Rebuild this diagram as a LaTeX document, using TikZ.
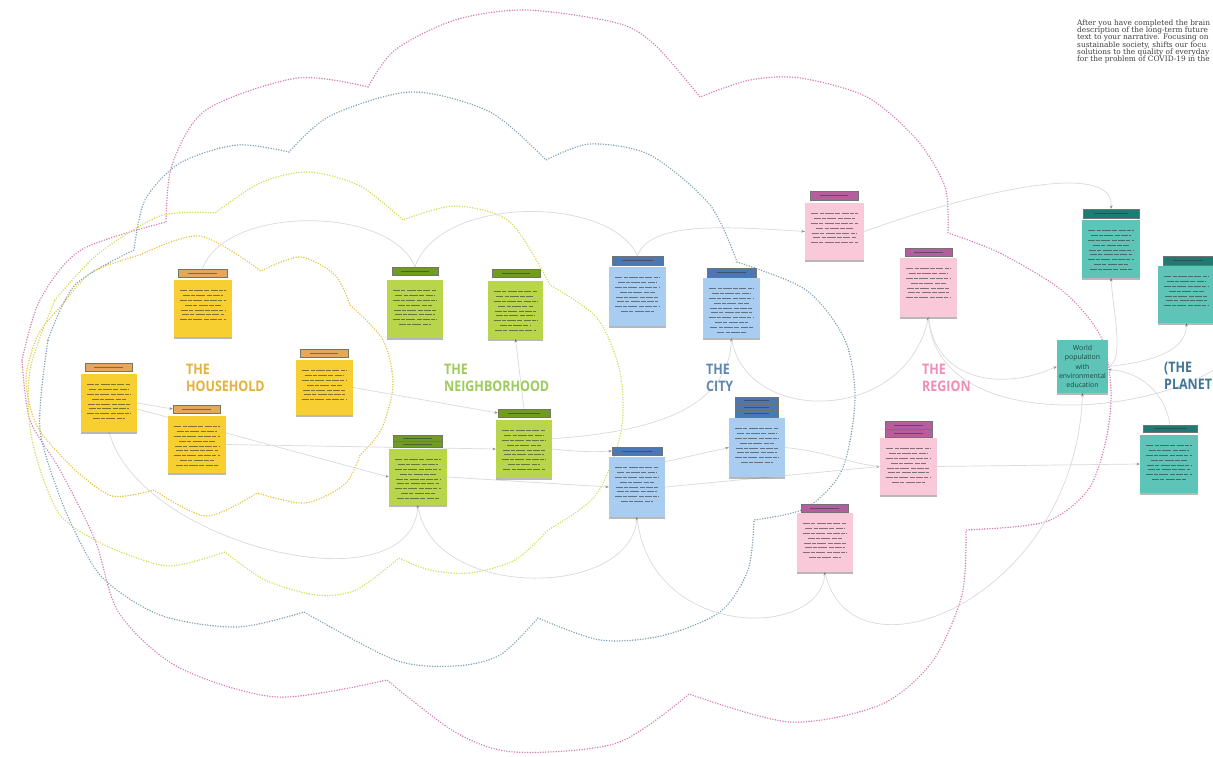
\documentclass[tikz,border=0pt]{standalone}
\usepackage{fontspec}
\setmainfont{DejaVu Serif}
\newfontfamily\labelfont[FakeStretch=0.86]{Open Sans}
\newfontfamily\notefont{Open Sans}
\usetikzlibrary{shadows,arrows.meta}

% sticky note families
\definecolor{hhFill}{HTML}{F7CF30}
\definecolor{hhHead}{HTML}{E3A75E}
\definecolor{nbFill}{HTML}{B9D54C}
\definecolor{nbHead}{HTML}{6F9C22}
\definecolor{ctFill}{HTML}{A9CDF1}
\definecolor{ctHead}{HTML}{4B78B4}
\definecolor{rgFill}{HTML}{F9C8D9}
\definecolor{rgHead}{HTML}{B65E9D}
\definecolor{plFill}{HTML}{5EC4B7}
\definecolor{plHead}{HTML}{1F7A74}
% area titles
\definecolor{hhText}{HTML}{E3B23C}
\definecolor{nbText}{HTML}{9DCB5C}
\definecolor{ctText}{HTML}{5F87AF}
\definecolor{rgText}{HTML}{EE8DB6}
\definecolor{plText}{HTML}{3E7598}
% cloud outlines
\definecolor{cloudHH}{HTML}{E6C43F}
\definecolor{cloudNB}{HTML}{D3DD55}
\definecolor{cloudCT}{HTML}{7FA2B5}
\definecolor{cloudRG}{HTML}{D87CB4}
% connectors and prose
\definecolor{linkgray}{HTML}{DADADF}
\definecolor{arrowgray}{HTML}{8A8A90}
\definecolor{prose}{HTML}{3F3F3F}
\definecolor{worldText}{HTML}{1E4744}

\pgfdeclarelayer{clouds}
\pgfdeclarelayer{links}
\pgfsetlayers{clouds,links,main}

\tikzset{
  cloud/.style={line width=1.6pt, line cap=round, dash pattern=on 0pt off 2.6pt},
  notebox/.style={rectangle, inner sep=0pt, draw=none,
    drop shadow={shadow xshift=0pt, shadow yshift=-2pt, opacity=0.28, fill=black}},
  headbox/.style={rectangle, inner sep=0pt, draw=black!55, line width=0.35pt},
  noteline/.style={line width=1pt, draw=black!80, opacity=0.6,
    dash pattern=on 7pt off 1.3pt on 4pt off 1.3pt on 9pt off 1.3pt on 5pt off 1.3pt},
  headline/.style={line width=0.9pt, draw=black!80, opacity=0.55},
  link/.style={draw=linkgray, line width=0.7pt},
  arrowlink/.style={link, -{Stealth[length=3.4pt,width=2.6pt,color=arrowgray]}},
  areatitle/.style={anchor=north west, inner sep=0pt, align=left,
    font=\labelfont\bfseries\fontsize{14.5}{16.5}\selectfont},
}

% header bar of a sticky note: name, centre x, top, width, rows, row height, family
\newcommand{\stickyhead}[7]{%
  \pgfmathsetmacro\hdh{#5*#6}%
  \pgfmathsetmacro\hdc{#3+#5*#6/2}%
  \node[headbox, fill=#7Head, minimum width=#4pt, minimum height=\hdh pt] (#1) at (#2,\hdc) {};%
  \foreach \r in {1,...,#5} {%
    \draw[headline] (#2-0.3*#4, #3+\r*#6-#6/2) -- (#2+0.3*#4, #3+\r*#6-#6/2);%
    \ifnum\r>1 \draw[draw=black!55, line width=0.35pt] (#2-#4/2, #3+\r*#6-#6) -- (#2+#4/2, #3+\r*#6-#6);\fi
  }%
}
% body of a sticky note: name, centre x, top, width, height, family, text rows
\newcommand{\stickybody}[7]{%
  \pgfmathsetmacro\bdc{#3+#5/2}%
  \node[notebox, fill=#6Fill, minimum width=#4pt, minimum height=#5pt] (#1) at (#2,\bdc) {};%
  \foreach \f [count=\k] in {.78,.7,.8,.62,.76,.72,.8,.58,.74,.5} {%
    \ifnum\k>#7\relax\else
      \draw[noteline] (#2-\f*#4/2, #3+5.5+\k*4.9) -- (#2+\f*#4/2, #3+5.5+\k*4.9);%
    \fi
  }%
}

\begin{document}
\begin{tikzpicture}[x=1pt,y=-1pt]
\useasboundingbox (0,0) rectangle (1213,757);
\clip (0,0) rectangle (1213,757);

% ---------- nested clouds ----------
\begin{pgfonlayer}{clouds}
\fill[white] (0,0) rectangle (1213,757);
% region
\draw[cloud, draw=cloudRG]
  plot[smooth] coordinates {(22,360) (40,300) (81,250) (166,222)}
  --plot[smooth] coordinates {(166,222) (172,165) (206,110) (297,78) (368,87)}
  --plot[smooth] coordinates {(368,87) (395,50) (455,20) (526,10) (617,23) (655,45) (700,97)}
  --plot[smooth] coordinates {(700,97) (750,80) (800,78) (867,97) (917,140) (945,187) (948,233)}
  --plot[smooth] coordinates {(948,233) (1000,253) (1064,292) (1101,337) (1111,390) (1106,440) (1088,490) (1045,522) (966,530)}
  --plot[smooth] coordinates {(966,530) (962,595) (932,662) (880,705) (790,722) (689,694)}
  --plot[smooth] coordinates {(689,694) (617,743) (514,752) (455,732) (387,680)}
  --plot[smooth] coordinates {(387,680) (277,697) (178,667) (119,613) (95,540) (60,470) (30,420) (22,360)};
% city
\draw[cloud, draw=cloudCT]
  plot[smooth] coordinates {(48,340) (75,285) (134,250)}
  --plot[smooth] coordinates {(134,250) (145,200) (180,163) (237,145) (289,152)}
  --plot[smooth] coordinates {(289,152) (330,116) (411,92) (490,112) (546,160)}
  --plot[smooth] coordinates {(546,160) (590,144) (650,155) (710,205) (737,262)}
  --plot[smooth] coordinates {(737,262) (806,290) (845,340) (855,400) (842,470) (806,508) (754,520)}
  --plot[smooth] coordinates {(754,520) (748,570) (720,612) (661,636) (600,640) (538,618)}
  --plot[smooth] coordinates {(538,618) (500,655) (455,666) (395,660) (304,612)}
  --plot[smooth] coordinates {(304,612) (237,627) (160,615) (100,575) (65,510)}
  --plot[smooth] coordinates {(65,510) (40,430) (48,340)};
% neighborhood
\draw[cloud, draw=cloudNB]
  plot[smooth] coordinates {(55,300) (98,254) (160,216) (215,213)}
  --plot[smooth] coordinates {(215,213) (260,183) (308,172) (360,186) (403,220)}
  --plot[smooth] coordinates {(403,220) (455,206) (510,222) (550,285)}
  --plot[smooth] coordinates {(550,285) (597,318) (620,372) (621,432) (596,495) (548,530)}
  --plot[smooth] coordinates {(548,530) (515,560) (470,573) (430,570) (399,558)}
  --plot[smooth] coordinates {(399,558) (356,590) (316,595) (265,580) (225,552)}
  --plot[smooth] coordinates {(225,552) (168,566) (111,548)}
  --plot[smooth] coordinates {(111,548) (60,515) (32,440) (30,370) (55,300)};
% household
\draw[cloud, draw=cloudHH]
  plot[smooth] coordinates {(62,305) (92,272) (140,255)}
  --plot[smooth] coordinates {(140,255) (200,236) (261,271)}
  --plot[smooth] coordinates {(261,271) (300,257) (335,275) (350,305)}
  --plot[smooth] coordinates {(350,305) (383,340) (393,385) (381,430) (360,455)}
  --plot[smooth] coordinates {(360,455) (345,484) (305,503) (257,493)}
  --plot[smooth] coordinates {(257,493) (206,516) (154,490)}
  --plot[smooth] coordinates {(154,490) (112,496) (75,470)}
  --plot[smooth] coordinates {(75,470) (38,428) (26,380) (38,335) (62,305)};
\end{pgfonlayer}

% ---------- sticky notes ----------
% household
\stickyhead{hAh}{202.5}{269}{49}{1}{8}{hh}
\stickybody{hA}{203}{280}{58}{57}{hh}{7}
\stickyhead{hBh}{108.5}{363}{47}{1}{8}{hh}
\stickybody{hB}{109}{374}{56}{58}{hh}{8}
\stickyhead{hCh}{196.5}{405}{47}{1}{8}{hh}
\stickybody{hC}{197}{416}{58}{57}{hh}{9}
\stickyhead{hDh}{324}{349}{48}{1}{8}{hh}
\stickybody{hD}{324.5}{360}{57}{55}{hh}{7}
% neighborhood
\stickyhead{nAh}{415}{267}{46}{1}{8}{nb}
\stickybody{nA}{415}{280}{56}{58}{nb}{8}
\stickyhead{nBh}{516}{269}{48}{1}{8}{nb}
\stickybody{nB}{515.5}{281}{55}{58}{nb}{9}
\stickyhead{nCh}{524}{409}{52}{1}{8}{nb}
\stickybody{nC}{524}{420}{56}{58}{nb}{9}
\stickyhead{nDh}{417.5}{435}{49}{2}{6}{nb}
\stickybody{nD}{418}{449}{58}{56}{nb}{9}
% city
\stickyhead{cAh}{637.5}{256}{51}{1}{9}{ct}
\stickybody{cA}{637.5}{267}{57}{59}{ct}{8}
\stickyhead{cBh}{731.5}{268}{49}{1}{9}{ct}
\stickybody{cB}{731.5}{278}{57}{60}{ct}{10}
\stickyhead{cCh}{756.5}{397}{43}{3}{6.7}{ct}
\stickybody{cC}{757}{418}{56}{59}{ct}{8}
\stickyhead{cDh}{637}{447}{50}{1}{8}{ct}
\stickybody{cD}{637}{457}{56}{60}{ct}{8}
% region
\stickyhead{rAh}{834}{191}{48}{1}{9}{rg}
\stickybody{rA}{834.5}{203}{59}{57}{rg}{7}
\stickyhead{rBh}{928.5}{248}{47}{1}{8}{rg}
\stickybody{rB}{928.5}{258}{57}{59}{rg}{7}
\stickyhead{rCh}{908.5}{421}{47}{2}{8}{rg}
\stickybody{rC}{908.5}{438}{57}{57}{rg}{8}
\stickyhead{rDh}{824.5}{504}{47}{1}{8}{rg}
\stickybody{rD}{825}{513}{56}{59}{rg}{8}
% planet
\stickyhead{pAh}{1111}{209}{56}{1}{9}{pl}
\stickybody{pA}{1111}{220}{58}{58}{pl}{9}
\stickyhead{pBh}{1188}{256}{50}{1}{9}{pl}
\stickybody{pB}{1186.5}{266}{57}{57}{pl}{7}
\stickyhead{pDh}{1170}{425}{54}{1}{7.5}{pl}
\stickybody{pD}{1169}{435}{58}{58}{pl}{8}
\node[notebox, fill=plFill, minimum width=51pt, minimum height=53pt, text=worldText,
      align=center, text width=50pt, font=\notefont\fontsize{6.9}{9.4}\selectfont]
  (pC) at (1082.5,366.5) {World\\population\\with\\environmental\\education};

\coordinate (offR) at (1220,366);

% ---------- connectors, kept beneath the notes ----------
\begin{pgfonlayer}{links}
% arcs over the tops of the notes
\draw[link] (hAh.north) .. controls (225,205) and (390,205) .. (nAh.north);
\draw[link] (nAh.north) .. controls (440,195) and (610,195) .. (cAh.north);
\draw[arrowlink] (cAh.north) .. controls (650,222) and (720,226) .. (rA.west);
\draw[arrowlink] (rA.east) .. controls (980,190) and (1115,160) .. (pAh.north);
% household to neighborhood
\draw[arrowlink] (hB.east) -- (hCh.west);
\draw[arrowlink] ([yshift=-6pt]hB.east) -- (nD.west);
\draw[arrowlink] (hC.east) -- (nC.west);
\draw[arrowlink] (hD.east) -- (nCh.west);
\draw[arrowlink] (nCh.north) -- (nB.south);
% neighborhood to city
\draw[arrowlink] (nC.20) .. controls (650,432) and (728,410) .. (cB.south);
\draw[arrowlink] (nC.east) .. controls (580,452) and (595,452) .. (cDh.west);
\draw[arrowlink] (nD.east) -- (cD.west);
% city to region
\draw[arrowlink] ([yshift=-5pt]cD.north east) -- (cC.west);
\draw[arrowlink] (cD.east) -- (rC.west);
\draw[link] (cC.east) .. controls (830,452) and (850,464) .. (rC.west);
\draw[arrowlink] (cB.south) .. controls (745,425) and (905,425) .. (rB.south);
% region to planet
\draw[arrowlink] (rC.east) -- (pD.west);
\draw[arrowlink] (rB.south) .. controls (935,380) and (1000,392) .. (pC.west);
\draw[link] (rB.south) .. controls (935,430) and (1140,420) .. (offR);
\draw[arrowlink] (pC.east) .. controls (1125,362) and (1113,310) .. (pA.south);
\draw[arrowlink] (pC.east) .. controls (1150,362) and (1186,352) .. (pB.south);
\draw[arrowlink] (pDh.north) .. controls (1165,392) and (1140,372) .. ([yshift=-3pt]pC.east);
% sweeping arcs under the notes
\draw[arrowlink] (hB.south) .. controls (140,545) and (410,610) .. (nD.south);
\draw[arrowlink] (nD.south) .. controls (430,600) and (630,600) .. (cD.south);
\draw[arrowlink] (cD.south) .. controls (650,640) and (820,640) .. (rD.south);
\draw[arrowlink] (rD.south) .. controls (850,690) and (1075,600) .. (pC.south);
\end{pgfonlayer}

% area titles
\node[areatitle, text=hhText] (tHH) at (186,364) {THE\\HOUSEHOLD};
\node[areatitle, text=nbText] (tNB) at (444,364) {THE\\NEIGHBORHOOD};
\node[areatitle, text=ctText] (tCT) at (706,364) {THE\\CITY};
\node[areatitle, text=rgText] (tRG) at (922,364) {THE\\REGION};
\node[areatitle, text=plText] (tPL) at (1164,362) {(THE\\PLANET};

% introductory prose
\node[anchor=north west, inner sep=0pt, align=left, text=prose,
      font=\fontsize{7.4}{7.3}\selectfont] (intro) at (1077,19.5)
  {After you have completed the brain\\description of the long-term future\\text to your narrative. Focusing on\\sustainable society, shifts our focu\\solutions to the quality of everyday\\for the problem of COVID-19 in the};
\end{tikzpicture}
\end{document}
